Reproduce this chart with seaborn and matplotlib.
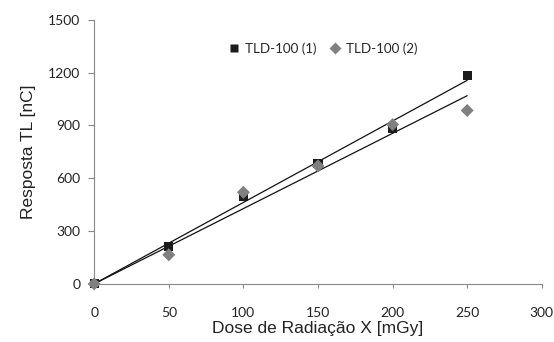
import numpy as np
import pandas as pd
import matplotlib
matplotlib.use("Agg")
import matplotlib.pyplot as plt
import seaborn as sns

# dose values and TL responses
dose = [0, 50, 100, 150, 200, 250]
tld1 = [0, 212, 495, 685, 885, 1185]
tld2 = [0, 165, 520, 670, 905, 985]
xticks = [0, 50, 100, 150, 200, 250, 300]
yticks = [0, 300, 600, 900, 1200, 1500]

df = pd.DataFrame({"dose": dose * 2,
                   "resp": tld1 + tld2,
                   "serie": ["TLD-100 (1)"] * 6 + ["TLD-100 (2)"] * 6})

sns.set_style("white")
plt.rcParams['font.family'] = ['Liberation Sans', 'DejaVu Sans']

fig = plt.figure(figsize=(5.54, 3.42), dpi=100)
ax = fig.add_axes([0.170, 0.170, 0.808, 0.772])

# linear trend lines through origin
x = np.array(dose, dtype=float)
for ys in (tld1, tld2):
    y = np.array(ys, dtype=float)
    k = (x * y).sum() / (x * x).sum()
    ax.plot([x.min(), x.max()], [0, k * x.max()], color="#111111", lw=0.9, zorder=2)

sns.scatterplot(data=df, x="dose", y="resp", hue="serie", style="serie",
                markers={"TLD-100 (1)": "s", "TLD-100 (2)": "D"},
                palette={"TLD-100 (1)": "#1c1c1c", "TLD-100 (2)": "#808080"},
                s=44, edgecolor="none", ax=ax, zorder=3, clip_on=False)

ax.set_xlim(0, 300)
ax.set_ylim(0, 1500)
ax.set_xticks(xticks)
ax.set_yticks(yticks)
for lab in ax.get_xticklabels() + ax.get_yticklabels():
    lab.set_family("Lato")
    lab.set_fontsize(10)
    lab.set_color("#222222")
ax.tick_params(direction="out", length=4, color="#888888", width=0.8)
ax.tick_params(axis="x", pad=14, length=3)
ax.tick_params(axis="y", pad=6)
ax.xaxis.set_ticks_position("bottom")
ax.yaxis.set_ticks_position("left")
for side in ("top", "right"):
    ax.spines[side].set_visible(False)
for side in ("left", "bottom"):
    ax.spines[side].set_color("#888888")
    ax.spines[side].set_linewidth(0.8)

ax.set_xlabel("Dose de Radiação X [mGy]", fontsize=12.5, color="#222222", labelpad=1)
ax.set_ylabel("Resposta TL [nC]", fontsize=12.5, color="#222222", labelpad=9)

leg = ax.legend(loc="upper center", bbox_to_anchor=(0.51, 0.96), ncol=2, frameon=False,
                handlelength=1.0, handletextpad=0.3, columnspacing=0.9, markerscale=0.85,
                prop={"family": "Lato", "size": 9.6})

fig.savefig("out.png", dpi=100)
